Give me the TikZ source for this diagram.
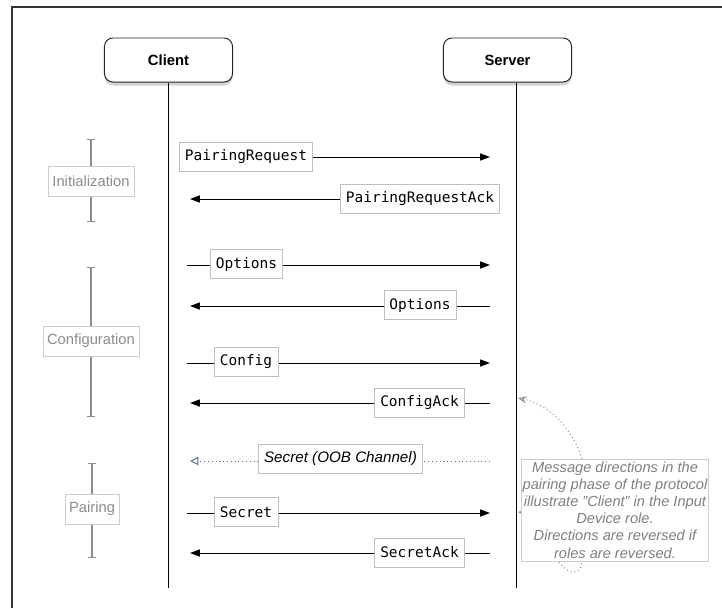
\documentclass[tikz,border=0pt]{standalone}
\usepackage{fontspec}
\setmainfont{Liberation Sans}
\setmonofont{DejaVu Sans Mono}
\usetikzlibrary{arrows.meta,shadows}

\definecolor{oobblue}{RGB}{85,110,150}

\tikzset{
    actor/.style={draw=black!85, line width=0.7pt, fill=white, rounded corners=6pt,
        minimum width=3.2cm, minimum height=1.1cm, font=\bfseries\fontsize{10.5}{12}\selectfont,
        drop shadow={shadow xshift=0pt, shadow yshift=-2.5pt, opacity=0.35}},
    msgbox/.style={draw=black!25, fill=white, inner xsep=4pt, minimum height=0.72cm,
        font=\ttfamily\fontsize{10.3}{12}\selectfont},
    msg/.style={line width=0.7pt, -{Triangle[length=7pt,width=5pt]}},
    oob/.style={draw=oobblue, line width=0.7pt, dotted,
        -{Triangle[open,length=6pt,width=6pt]}},
    phase/.style={draw=black!20, fill=white, text=black!45, inner xsep=3pt,
        minimum height=0.75cm, font=\fontsize{10.5}{12}\selectfont},
    bracket/.style={black!45, line width=1pt, {Bar[width=6pt]}-{Bar[width=6pt]}},
    note/.style={draw=black!20, fill=white, text=black!50, align=center, inner sep=1pt,
        minimum width=4.6cm, minimum height=2.55cm,
        font=\itshape\fontsize{10.4}{12.2}\selectfont},
    notelink/.style={black!45, dotted, line width=0.7pt, -{Stealth[open,length=6pt,width=5pt]}},
}

\begin{document}
\begin{tikzpicture}[x=0.025cm, y=-0.025cm]
    \useasboundingbox (0,0) rectangle (722,608);

    % Rahmen
    \draw[black!80, line width=1.3pt] (12,608) -- (12,7) -- (722,7);

    % Teilnehmer
    \node[actor] (client) at (168.5,60) {Client};
    \node[actor] (server) at (507.5,60) {Server};
    \coordinate (cEnd) at (168,588);
    \coordinate (sEnd) at (516,588);
    \draw[line width=0.7pt] (client.south -| cEnd) -- (cEnd);
    \draw[line width=0.7pt] (server.south -| sEnd) -- (sEnd);

    % Phasen
    \draw[bracket] (91,139) -- (91,222);
    \node[phase] (init) at (91,181) {Initialization};
    \draw[bracket] (91,267) -- (91,417);
    \node[phase] (conf) at (91,341) {Configuration};
    \draw[bracket] (92,463) -- (92,558);
    \node[phase] (pair) at (92,509) {Pairing};

    % Initialisierung
    \coordinate (l1) at (187,157); \coordinate (r1) at (490,157);
    \draw[msg] (l1) -- (r1);
    \node[msgbox] (m1) at (246,157) {PairingRequest};
    \coordinate (l2) at (190,199); \coordinate (r2) at (490,199);
    \draw[msg] (r2) -- (l2);
    \node[msgbox] (m2) at (420,199) {PairingRequestAck};

    % Konfiguration
    \coordinate (l3) at (187,265); \coordinate (r3) at (490,265);
    \draw[msg] (l3) -- (r3);
    \node[msgbox] (m3) at (246.5,264) {Options};
    \coordinate (l4) at (190,306); \coordinate (r4) at (490,306);
    \draw[msg] (r4) -- (l4);
    \node[msgbox] (m4) at (420,305) {Options};
    \coordinate (l5) at (187,363); \coordinate (r5) at (490,363);
    \draw[msg] (l5) -- (r5);
    \node[msgbox] (m5) at (246,362) {Config};
    \coordinate (l6) at (190,403); \coordinate (r6) at (490,403);
    \draw[msg] (r6) -- (l6);
    \node[msgbox] (m6) at (419.5,403) {ConfigAck};

    % Pairing
    \coordinate (l7) at (190,461); \coordinate (r7) at (490,461);
    \draw[oob] (r7) -- (l7);
    \node[msgbox, font=\itshape\fontsize{10.8}{12}\selectfont] (m7) at (340.5,459) {Secret (OOB Channel)};
    \coordinate (l8) at (187,513); \coordinate (r8) at (490,513);
    \draw[msg] (l8) -- (r8);
    \node[msgbox] (m8) at (246,512) {Secret};
    \coordinate (l9) at (190,553); \coordinate (r9) at (490,553);
    \draw[msg] (r9) -- (l9);
    \node[msgbox] (m9) at (419.5,552.5) {SecretAck};

    % Hinweis
    \coordinate (s1) at (518,398);
    \coordinate (s2) at (518,512);
    \draw[notelink] (559,562) .. controls (590,600) and (600,520) .. (s2);
    \node[note] (hint) at (615,510) {Message directions in the\\pairing phase of the protocol\\illustrate \symbol{34}Client\symbol{34} in the Input\\Device role.\\Directions are reversed if\\roles are reversed.};
    \draw[notelink] ([xshift=-0.825cm]hint.north) .. controls (572,428) and (550,405) .. (s1);
\end{tikzpicture}
\end{document}
